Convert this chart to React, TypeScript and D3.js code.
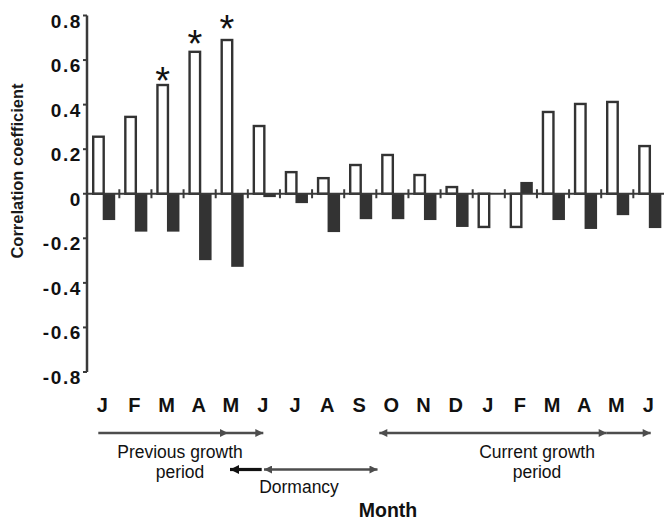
import React from "react";
import * as d3 from "d3";

const months = ["J", "F", "M", "A", "M", "J", "J", "A", "S", "O", "N", "D", "J", "F", "M", "A", "M", "J"];
const openValues = [0.256, 0.345, 0.488, 0.637, 0.69, 0.304, 0.097, 0.07, 0.129, 0.174, 0.084, 0.03, -0.149, -0.149, 0.367, 0.403, 0.412, 0.214];
const filledValues = [-0.118, -0.17, -0.17, -0.298, -0.328, -0.015, -0.042, -0.172, -0.114, -0.114, -0.118, -0.149, 0, 0.053, -0.118, -0.158, -0.096, -0.154];
const yTicks = [0.8, 0.6, 0.4, 0.2, 0, -0.2, -0.4, -0.6, -0.8];
const yTickLabels = ["0.8", "0.6", "0.4", "0.2", "0", "-0.2", "-0.4", "-0.6", "-0.8"];
const starMonths = [2, 3, 4];
const starLevels = [0.537, 0.702, 0.772];

const W = 664;
const H = 522;

export default function App() {
  const y = d3.scaleLinear().domain([-0.8, 0.8]).range([372, 15.5]);
  const x = d3.scaleBand<number>().domain(d3.range(months.length)).range([87.2, 87.2 + 18 * 32.125]).padding(0);
  const bw = x.bandwidth();
  const y0 = y(0);
  const axisColor = "#3a3a3a";
  const barDark = "#333";
  const arrowGray = "#4d4d4d";
  const font = "'Liberation Sans', Arial, Helvetica, sans-serif";

  const rowY1 = 433;
  const rowY2 = 469.5;

  return (
    <svg width={W} height={H} style={{ position: "absolute", left: 0, top: 0, display: "block", background: "#fff" }} fontFamily={font}>
      <defs>
        <marker id="hg" viewBox="0 0 10 10" refX="10" refY="5" markerUnits="userSpaceOnUse" markerWidth="11" markerHeight="8" orient="auto-start-reverse">
          <path d="M0,0 L10,5 L0,10 z" fill={arrowGray} />
        </marker>
        <marker id="hb" viewBox="0 0 10 10" refX="10" refY="5" markerUnits="userSpaceOnUse" markerWidth="12" markerHeight="9" orient="auto-start-reverse">
          <path d="M0,0 L10,5 L0,10 z" fill="#111" />
        </marker>
      </defs>

      {/* Y axis */}
      <line x1={87} x2={87} y1={y(0.8)} y2={y(-0.8)} stroke={axisColor} strokeWidth={2.5} />
      {yTicks.map((t, i) => (
        <g key={"t" + i}>
          <line x1={83} x2={87} y1={y(t)} y2={y(t)} stroke={axisColor} strokeWidth={2} />
          <text x={82} y={y(t) + 12} textAnchor="end" fontSize={19} fontWeight="bold" letterSpacing={1.6} fill="#111">
            {yTickLabels[i]}
          </text>
        </g>
      ))}
      <text transform={`translate(23,171) rotate(-90)`} textAnchor="middle" fontSize={16.5} fontWeight="bold" fill="#1a1a1a">
        Correlation coefficient
      </text>

      {/* Bars */}
      {openValues.map((v, i) => (
        <rect key={"o" + i} x={(x(i) as number) + 6} width={10.5} y={Math.min(y(v), y0)} height={Math.abs(y(v) - y0)} fill="#fff" stroke={barDark} strokeWidth={2.4} />
      ))}
      {filledValues.map((v, i) => (
        <rect key={"f" + i} x={(x(i) as number) + 15.5} width={12.5} y={Math.min(y(v), y0)} height={Math.abs(y(v) - y0)} fill={barDark} />
      ))}

      {/* zero line */}
      <line x1={87} x2={W} y1={y0} y2={y0} stroke={axisColor} strokeWidth={2.2} />
      {d3.range(1, months.length).map((i) => (
        <line key={"z" + i} x1={x(i) as number} x2={x(i) as number} y1={y0 - 4.5} y2={y0 + 4.5} stroke={axisColor} strokeWidth={2} />
      ))}

      {/* Asterisks */}
      {starMonths.map((m, i) => (
        <text key={"s" + i} x={(x(m) as number) + 11.2} y={y(starLevels[i]) + 20} textAnchor="middle" fontSize={38} fill="#111">
          *
        </text>
      ))}

      {/* Month labels */}
      {months.map((m, i) => (
        <text key={"m" + i} x={(x(i) as number) + bw / 2 - 1} y={412} textAnchor="middle" fontSize={20} fontWeight="bold" fill="#111">
          {m}
        </text>
      ))}

      {/* Arrows row 1 */}
      <line x1={98.3} x2={228} y1={rowY1} y2={rowY1} stroke={arrowGray} strokeWidth={2.6} markerEnd="url(#hg)" />
      <line x1={228} x2={263.3} y1={rowY1} y2={rowY1} stroke={arrowGray} strokeWidth={2.6} markerEnd="url(#hg)" />
      <line x1={379.3} x2={606.7} y1={rowY1} y2={rowY1} stroke={arrowGray} strokeWidth={2.6} markerStart="url(#hg)" markerEnd="url(#hg)" />
      <line x1={606.7} x2={650.7} y1={rowY1} y2={rowY1} stroke={arrowGray} strokeWidth={2.6} markerEnd="url(#hg)" />

      {/* Arrows row 2 */}
      <line x1={261.7} x2={230} y1={rowY2} y2={rowY2} stroke="#111" strokeWidth={3.2} markerEnd="url(#hb)" />
      <line x1={264} x2={377.5} y1={rowY2} y2={rowY2} stroke={arrowGray} strokeWidth={2.6} markerStart="url(#hg)" markerEnd="url(#hg)" />

      {/* Labels */}
      <g fontSize={17.5} fill="#111" textAnchor="middle">
        <text x={180} y={457.5}>Previous growth</text>
        <text x={180} y={477.5}>period</text>
        <text x={299} y={493}>Dormancy</text>
        <text x={537} y={457.5}>Current growth</text>
        <text x={537} y={477.5}>period</text>
      </g>
      <text x={388} y={516.5} textAnchor="middle" fontSize={19.5} fontWeight="bold" fill="#111">
        Month
      </text>
    </svg>
  );
}
